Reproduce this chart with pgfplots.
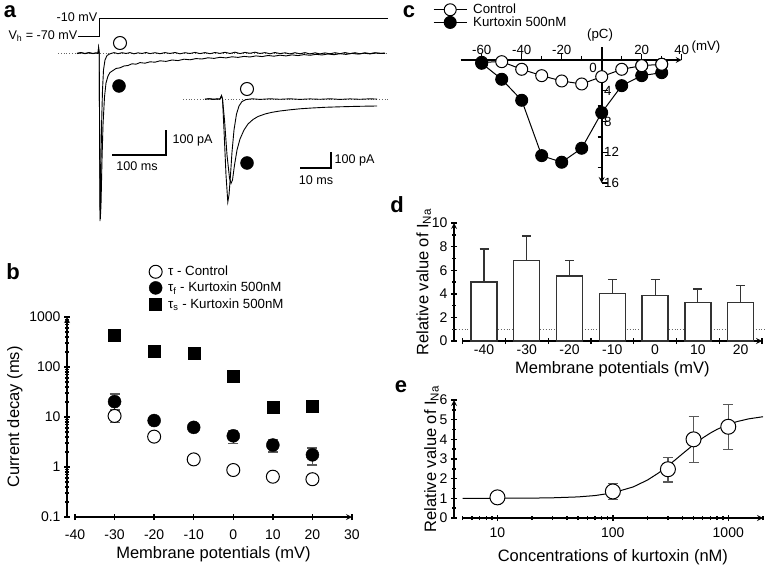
\documentclass[border=0pt]{standalone}
\usepackage{pgfplots}
\pgfplotsset{compat=1.18}
\usepackage{fontspec}
\setmainfont{Liberation Sans}
\newcommand{\fs}[1]{\fontsize{#1}{#1}\selectfont}
\begin{document}
\begin{tikzpicture}[x=1pt,y=1pt]
\path[use as bounding box] (0pt,0pt) rectangle (770pt,-569pt);
\pgfplotsset{
  every axis/.append style={
    scale only axis, clip=false,
    /pgf/number format/assume math mode=true,
    tick label style={font=\fs{14}},
    label style={font=\fs{16.5}},
    axis line style={line width=1.6pt,-},
    every inner x axis line/.append style={-},
    every outer x axis line/.append style={-},
    every inner y axis line/.append style={-},
    every outer y axis line/.append style={-},
    tick style={line width=1.4pt,black},
    major tick length=6pt, minor tick length=3.5pt,
    tick align=outside,
  },
  errb/.style={error bars/.cd, y dir=both, y explicit,
     error bar style={line width=1.2pt,black!65},
     error mark options={rotate=90,mark size=5pt,line width=1.2pt,black!65}},
  openm/.style={only marks, mark=*, mark size=#1, mark options={fill=white,draw=black,line width=1pt}},
}
% ---------------- panel a ----------------
\begin{axis}[at={(0pt,-230pt)},anchor=south west,width=390pt,height=230pt,
  xmin=0,xmax=390,ymin=-230,ymax=0,hide axis]
\addplot[black,line width=1pt] coordinates {(78,-37) (99,-37) (99,-19) (388,-19)};
\addplot[black!60,dotted,line width=0.8pt] coordinates {(58,-53) (388,-53)};
\addplot[black!60,dotted,line width=0.8pt] coordinates {(183,-99) (388,-99)};
% control, main
\addplot[black,line width=0.9pt] coordinates {(77,-53.3) (81,-52.5) (85,-53.7) (89,-52.8) (93,-53.6) (96,-52.9) (98,-53.2) (98.6,-47.5) (99.2,-53) (99.6,-140) (100,-221) (100.5,-200) (101,-160) (101.7,-120) (102.5,-90) (103.5,-70) (105,-60) (107,-55.5) (110,-53.8) (114,-52.6) (118,-53.7) (122,-52.7) (126,-53.5) (130,-52.6) (134,-53.8) (138,-52.8) (142,-53.5) (146,-52.5) (150,-53.6) (155,-52.7) (160,-53.7) (165,-52.6) (170,-53.5) (175,-52.5) (180,-53.8) (185,-52.7) (190,-53.5) (195,-52.4) (200,-53.6) (205,-52.6) (210,-53.7) (215,-52.5) (220,-53.4) (225,-52.3) (230,-53.5) (235,-52.2) (240,-53.6) (245,-52.4) (250,-53.3) (255,-52.2) (260,-53.5) (265,-52.6) (270,-53.8) (275,-52.5) (280,-53.6) (285,-52.8) (290,-53.9) (295,-52.7) (300,-53.8) (305,-52.6) (310,-54.0) (315,-52.8) (320,-53.9) (325,-52.9) (330,-53.8) (335,-52.7) (340,-53.7) (345,-52.6) (350,-53.6) (355,-52.7) (360,-53.8) (365,-52.8) (370,-53.6) (375,-52.7) (380,-53.5) (385,-53)};
% kurtoxin, main
\addplot[black,line width=0.9pt] coordinates {(77,-53.6) (81,-52.8) (85,-53.4) (89,-52.6) (93,-53.5) (96,-53) (98,-53.4) (98.6,-48) (99.2,-53) (99.7,-150) (100.3,-219) (101,-205) (102,-160) (103,-125) (104.5,-97) (106,-83) (108,-76) (110,-72.5) (113,-70.5) (116,-68.5) (120,-67.8) (124,-66) (128,-65.5) (132,-63.8) (136,-64.2) (140,-62.6) (145,-63.2) (150,-61.8) (155,-62.2) (160,-60.8) (166,-61.4) (172,-60.0) (178,-60.6) (184,-59.2) (190,-59.8) (196,-58.6) (202,-59.0) (208,-57.8) (214,-58.4) (220,-57.3) (226,-57.9) (232,-56.8) (238,-57.4) (244,-56.4) (250,-57.0) (256,-55.9) (262,-56.6) (268,-55.5) (274,-56.2) (280,-55.2) (286,-55.9) (292,-54.9) (298,-55.6) (304,-54.6) (310,-55.3) (316,-54.3) (322,-55.0) (328,-54.0) (334,-54.7) (340,-53.7) (346,-54.4) (352,-53.4) (358,-54.1) (364,-53.2) (370,-53.9) (376,-53.0) (385,-53.5)};
% inset control
\addplot[black,line width=0.9pt] coordinates {(205,-99.3) (209,-98.7) (213,-99.4) (217,-98.8) (220,-99.2) (221.5,-95.5) (222.5,-99) (224,-130) (226,-175) (227.8,-202) (229,-195) (230.5,-175) (232,-152) (234,-130) (236.5,-114) (239,-106) (242,-101.5) (246,-99.6) (252,-98.8) (260,-99.4) (270,-98.8) (280,-99.3) (290,-98.8) (300,-99.4) (310,-98.9) (320,-99.3) (330,-98.8) (340,-99.4) (350,-98.9) (360,-99.3) (370,-98.8) (377,-99.1)};
% inset kurtoxin
\addplot[black,line width=0.9pt] coordinates {(205,-99.1) (210,-98.8) (215,-99.3) (220,-98.9) (221.5,-96) (222.5,-99) (224.5,-120) (227,-155) (229.5,-178) (231,-183.5) (232.5,-180) (234.5,-165) (237,-150) (240,-139) (244,-130) (248,-124) (253,-119.5) (258,-116.5) (265,-114) (272,-112.3) (280,-111) (290,-109.8) (300,-108.8) (312,-108) (325,-107.3) (340,-106.8) (355,-106.4) (365,-106.2) (377,-106)};
% scale bars
\addplot[black,line width=1.3pt] coordinates {(112,-155) (166,-155) (166,-130)};
\addplot[black,line width=1.3pt] coordinates {(300,-168) (331,-168) (331,-152)};
% symbols
\addplot[openm=6.5pt] coordinates {(120,-43) (247,-89)};
\addplot[only marks,mark=*,mark size=6.5pt,black] coordinates {(119,-86) (247,-163)};
\end{axis}
\node[anchor=east,inner sep=0.5pt,font=\fs{12.6}] at (98pt,-17.5pt) {-10 mV};
\node[anchor=east,inner sep=0.5pt,font=\fs{12.6}] at (78pt,-36pt) {V\textsubscript{h} = -70 mV};
\node[anchor=west,inner sep=0.5pt,font=\fs{12.6}] at (172pt,-140pt) {100 pA};
\node[font=\fs{12.6}] at (137pt,-166pt) {100 ms};
\node[anchor=west,inner sep=0.5pt,font=\fs{12.6}] at (334pt,-160pt) {100 pA};
\node[font=\fs{12.6}] at (316pt,-180pt) {10 ms};
% panel letters
\node[font=\bfseries\fs{22},inner sep=1pt] at (10pt,-11.5pt) {a};
\node[font=\bfseries\fs{22},inner sep=1pt] at (13pt,-272pt) {b};
\node[font=\bfseries\fs{22},inner sep=1pt] at (409pt,-11.5pt) {c};
\node[font=\bfseries\fs{22},inner sep=1pt] at (397pt,-205pt) {d};
\node[font=\bfseries\fs{22},inner sep=1pt] at (401pt,-387pt) {e};
% ---------------- panel b ----------------
\begin{axis}[at={(67pt,-517pt)},anchor=south west,width=1pt,height=200pt,
  xmin=0,xmax=1,ymode=log,ymin=0.1,ymax=1000,
  axis x line=none, axis y line=left,
  ytick={0.1,1,10,100,1000}, yticklabels={0.1,1,10,100,1000},
  minor ytick={0.2,0.3,0.4,0.5,0.6,0.7,0.8,0.9,2,3,4,5,6,7,8,9,20,30,40,50,60,70,80,90,200,300,400,500,600,700,800,900},
  ylabel={Current decay (ms)}]
\addplot[draw=none] coordinates {(0.5,1)};
\end{axis}
\begin{axis}[at={(75pt,-517pt)},anchor=south west,width=277pt,height=200pt,
  xmin=-40,xmax=30,ymode=log,ymin=0.1,ymax=1000,
  axis y line=none, axis x line=bottom,
  xtick={-40,-30,...,30}, xticklabel style={yshift=-6pt},
  xlabel={Membrane potentials (mV)},
  legend style={at={(0.267,1.265)},anchor=north west,draw=none,fill=none,inner sep=0pt,
     font=\fs{13.3},row sep=1pt,column sep=1pt,cells={anchor=west}},
  legend image code/.code={\draw[#1] plot coordinates {(0pt,0pt)};},
  ]
\addplot[only marks,mark=none,forget plot,errb] coordinates {(-30,10.5) += (0,3) -= (0,2.8)};
\addplot[openm=6.5pt] coordinates {(-30,10.5) (-20,4.05) (-10,1.42) (0,0.87) (10,0.64) (20,0.57)};
\addlegendentry{\hspace{3pt}τ - Control}
\addplot[only marks,mark=none,forget plot,errb] coordinates {(-30,20.3) += (0,8.5) -= (0,6) (-20,8.5) += (0,1) -= (0,1) (0,4.2) += (0,1.2) -= (0,1.2) (10,2.75) += (0,0.75) -= (0,0.75) (20,1.75) += (0,0.65) -= (0,0.65)};
\addplot[only marks,mark=*,mark size=6.5pt,black] coordinates {(-30,20.3) (-20,8.5) (-10,6.2) (0,4.2) (10,2.75) (20,1.75)};
\addlegendentry{\hspace{3pt}τ\textsubscript{f} - Kurtoxin 500nM}
\addplot[only marks,mark=square*,mark size=6pt,black] coordinates {(-30,437) (-20,203) (-10,188) (0,64) (10,15.6) (20,16.1)};
\addlegendentry{\hspace{3pt}τ\textsubscript{s} - Kurtoxin 500nM}
\end{axis}
% ---------------- panel c ----------------
\begin{axis}[at={(460.7pt,-183pt)},anchor=south west,width=221pt,height=135.7pt,
  xmin=-70.5,xmax=40,ymin=-1.65,ymax=16,y dir=reverse,
  axis lines=middle, tick align=center,
  xtick={-60,-40,-20,20,40}, minor xtick={-50,-30,-10,10,30},
  ytick={4,8,12,16}, minor ytick={2,6,10,14},
  tick label style={font=\fs{13.3}},
  every major x tick/.append style={yshift=3pt},
  every minor x tick/.append style={yshift=2pt},
  every major y tick/.append style={xshift=3pt},
  every minor y tick/.append style={xshift=-2pt},
  major tick length=6pt, minor tick length=4pt,
  xticklabel style={anchor=south,yshift=5pt},
  yticklabel style={anchor=west,xshift=2pt},
  ]
\addplot[black,line width=1pt,mark=*,mark size=6pt,mark options={fill=white,draw=black,line width=1pt}] coordinates {(-60,0.3) (-50,0.22) (-40,1.21) (-30,2.04) (-20,2.73) (-10,3.12) (0,2.17) (10,1.21) (20,0.74) (30,0.56)};
\addplot[black,line width=1pt,mark=*,mark size=6pt] coordinates {(-60,0.43) (-50,2.51) (-40,5.24) (-30,12.44) (-20,13.3) (-10,11.48) (0,6.85) (10,3.34) (20,2.04) (30,1.65)};
\addplot[openm=6pt] coordinates {(20,0.74) (30,0.56)};
\end{axis}
% legend of panel c (hidden helper axis on the same box)
\begin{axis}[at={(460.7pt,-183pt)},anchor=south west,width=221pt,height=135.7pt,
  hide axis, xmin=0,xmax=1,ymin=0,ymax=1,
  legend style={at={(-0.1253,1.3338)},anchor=north west,draw=none,fill=none,inner sep=0pt,
     font=\fs{13.3},row sep=-2.5pt,cells={anchor=west}},
  legend image code/.code={\draw[mark repeat=2,mark phase=2,#1] plot coordinates {(0pt,0pt) (16.5pt,0pt) (33pt,0pt)};},
  ]
\addplot[draw=none,forget plot] coordinates {(0.5,0.5)};
\addlegendimage{black,line width=1pt,mark=*,mark size=6pt,mark options={fill=white,draw=black,line width=1pt}}
\addlegendentry{\hspace{4pt}Control}
\addlegendimage{black,line width=1pt,mark=*,mark size=6pt}
\addlegendentry{\hspace{4pt}Kurtoxin 500nM}
\end{axis}
\node[font=\fs{13.3}] at (600pt,-35pt) {(pC)};
\node[font=\fs{13.3}] at (706pt,-47pt) {(mV)};
\node[font=\fs{13.3}] at (593pt,-68pt) {0};
% ---------------- panel d ----------------
\begin{axis}[at={(454pt,-341pt)},anchor=south west,width=1pt,height=118pt,
  xmin=0,xmax=1,ymin=0,ymax=10, axis x line=none, axis y line=left,
  ytick={0,2,...,10}, minor ytick={1,3,...,9},
  ylabel={Relative value of I\textsubscript{Na}}, ylabel shift=-6pt]
\addplot[draw=none] coordinates {(0.5,1)};
\end{axis}
\begin{axis}[at={(462.7pt,-341pt)},anchor=south west,width=299.3pt,height=118pt,
  xmin=-0.5,xmax=6.5,ymin=0,ymax=10, axis y line=none, axis x line=bottom,
  xtick={0,...,6}, xticklabels={-40,-30,-20,-10,0,10,20},
  minor xtick={-0.5,0.5,...,6.5}, major tick length=0pt, minor tick length=6pt,
  minor tick style={line width=1.4pt},
  xlabel={Membrane potentials (mV)}]
\addplot[black!60,dotted,line width=0.8pt] coordinates {(-0.72,1) (6.57,1)};
\addplot[ybar,bar width=26pt,fill=white,draw=black!80,line width=1.3pt,
  error bars/.cd,y dir=plus,y explicit,error bar style={line width=1.2pt,black!80},
  error mark options={rotate=90,mark size=4.5pt,line width=1.2pt,black!80}]
  coordinates {(0,5.0) +- (0,2.8) (1,6.8) +- (0,2.1) (2,5.5) +- (0,1.3) (3,4.0) +- (0,1.2) (4,3.85) +- (0,1.35) (5,3.25) +- (0,1.15) (6,3.28) +- (0,1.42)};
\end{axis}
% ---------------- panel e (x = log10 of concentration in nM) ----------------
\begin{axis}[at={(454pt,-518pt)},anchor=south west,width=1pt,height=118pt,
  xmin=0,xmax=1,ymin=0,ymax=6, axis x line=none, axis y line=left,
  ytick={0,...,6}, minor ytick={0.5,1.5,2.5,3.5,4.5,5.5},
  ylabel={Relative value of I\textsubscript{Na}}, ylabel shift=-6pt]
\addplot[draw=none] coordinates {(0.5,1)};
\end{axis}
\begin{axis}[at={(462.7pt,-518pt)},anchor=south west,width=300.3pt,height=118pt,
  xmin=0.699,xmax=3.301,ymin=0,ymax=6, axis y line=none, axis x line=bottom,
  xtick={1,2,3}, xticklabels={10,100,1000}, xticklabel style={yshift=-3pt},
  minor xtick={0.699,0.778,0.845,0.903,0.954,1.301,1.477,1.602,1.699,1.778,1.845,1.903,1.954,2.301,2.477,2.602,2.699,2.778,2.845,2.903,2.954,3.301},
  minor tick length=4pt,
  xlabel={Concentrations of kurtoxin (nM)}, xlabel style={yshift=-5pt}]
\addplot[black,line width=1pt] coordinates {(0.699,1.001) (1,1.003) (1.301,1.012) (1.4771,1.027) (1.699,1.073) (1.8451,1.141) (2,1.279) (2.1761,1.58) (2.301,1.933) (2.3979,2.299) (2.4771,2.651) (2.5441,2.974) (2.6021,3.26) (2.699,3.726) (2.7782,4.069) (2.8451,4.321) (2.9031,4.508) (3,4.758) (3.0792,4.908) (3.1761,5.041) (3.301,5.15)};
\addplot[only marks,mark=none,forget plot,errb] coordinates {(2,1.35) += (0,0.4) -= (0,0.4) (2.4771,2.48) += (0,0.6) -= (0,0.65) (2.699,4.0) += (0,1.17) -= (0,1.17) (3,4.64) += (0,1.14) -= (0,1.15)};
\addplot[openm=7.5pt] coordinates {(1,1.05) (2,1.35) (2.4771,2.48) (2.699,4.0) (3,4.64)};
\end{axis}
\end{tikzpicture}
\end{document}
